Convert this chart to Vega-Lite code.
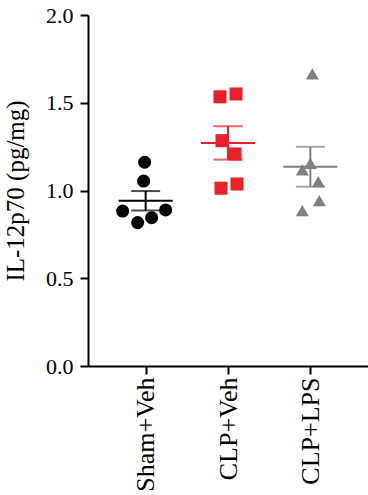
{
  "$schema": "https://vega.github.io/schema/vega-lite/v6.json",
  "width": 280,
  "height": 351,
  "autosize": {"type": "none"},
  "padding": {"left": 88, "top": 15, "right": 0, "bottom": 129},
  "background": "white",
  "config": {
    "view": {"stroke": null},
    "font": "Liberation Serif",
    "axis": {"domainColor": "black", "domainWidth": 2, "tickColor": "black", "tickWidth": 2, "tickSize": 8, "labelColor": "black", "titleColor": "black", "grid": false, "labelFont": "Liberation Serif", "titleFont": "Liberation Serif"}
  },
  "data": {
    "values": [
      {"group": "Sham+Veh", "value": 1.161, "jit": -1},
      {"group": "Sham+Veh", "value": 1.054, "jit": -2},
      {"group": "Sham+Veh", "value": 0.883, "jit": -23},
      {"group": "Sham+Veh", "value": 0.817, "jit": -8},
      {"group": "Sham+Veh", "value": 0.845, "jit": 6},
      {"group": "Sham+Veh", "value": 0.889, "jit": 20},
      {"group": "CLP+Veh", "value": 1.534, "jit": -8},
      {"group": "CLP+Veh", "value": 1.550, "jit": 8},
      {"group": "CLP+Veh", "value": 1.284, "jit": -6},
      {"group": "CLP+Veh", "value": 1.208, "jit": 7},
      {"group": "CLP+Veh", "value": 1.013, "jit": -7},
      {"group": "CLP+Veh", "value": 1.037, "jit": 9},
      {"group": "CLP+LPS", "value": 1.664, "jit": 2},
      {"group": "CLP+LPS", "value": 1.155, "jit": 0},
      {"group": "CLP+LPS", "value": 1.117, "jit": -8},
      {"group": "CLP+LPS", "value": 1.050, "jit": 8},
      {"group": "CLP+LPS", "value": 0.942, "jit": 9},
      {"group": "CLP+LPS", "value": 0.885, "jit": -8}
    ]
  },
  "encoding": {
    "x": {
      "field": "group", "type": "nominal",
      "sort": ["Sham+Veh", "CLP+Veh", "CLP+LPS"],
      "scale": {"type": "point", "padding": 0.7},
      "axis": {"title": null, "labelAngle": -90, "labelFontSize": 26, "labelPadding": 3, "labelAlign": "right", "labelBaseline": "middle"}
    },
    "color": {
      "field": "group", "type": "nominal",
      "scale": {"domain": ["Sham+Veh", "CLP+Veh", "CLP+LPS"], "range": ["#000000", "#E8202A", "#808080"]},
      "legend": null
    }
  },
  "layer": [
    {
      "mark": {"type": "errorbar", "extent": "stderr", "thickness": 2, "ticks": {"size": 29, "thickness": 2}},
      "encoding": {
        "y": {"field": "value", "type": "quantitative", "scale": {"domain": [0, 2]},
          "axis": {"title": "IL-12p70 (pg/mg)", "values": [0, 0.5, 1, 1.5, 2], "format": ".1f", "labelFontSize": 22, "labelPadding": 7, "titleFontSize": 25, "titleFontWeight": "normal", "titlePadding": 17}}
      }
    },
    {
      "mark": {"type": "tick", "size": 54, "thickness": 2},
      "encoding": {
        "y": {"aggregate": "mean", "field": "value", "type": "quantitative"}
      }
    },
    {
      "mark": {"type": "point", "filled": true, "size": 170, "opacity": 1},
      "encoding": {
        "y": {"field": "value", "type": "quantitative"},
        "xOffset": {"field": "jit", "type": "quantitative", "scale": {"domain": [-40, 40], "range": [-40, 40]}},
        "shape": {"field": "group", "type": "nominal", "scale": {"domain": ["Sham+Veh", "CLP+Veh", "CLP+LPS"], "range": ["circle", "square", "triangle-up"]}, "legend": null}
      }
    }
  ]
}
